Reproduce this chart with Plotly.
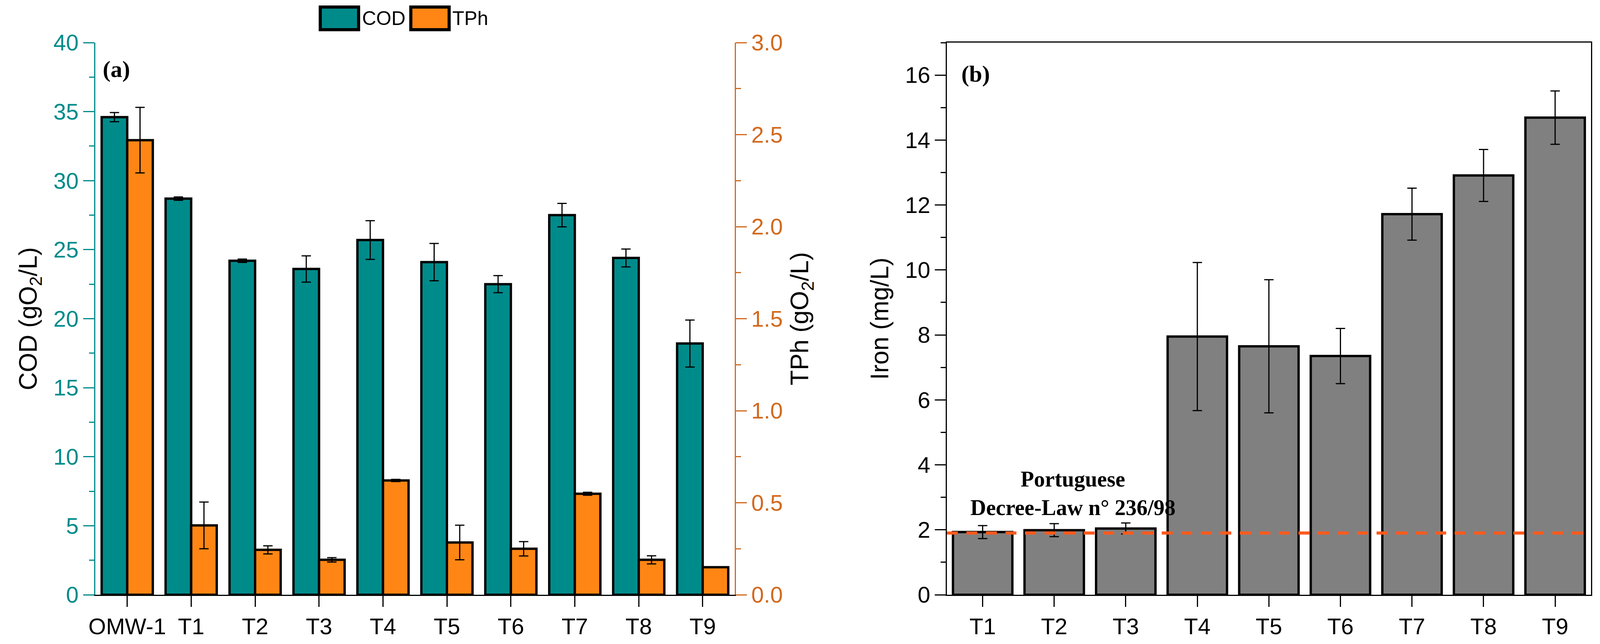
"""
COD / TPh (panel a) and iron (panel b) bar charts with error bars.
"""

import plotly.graph_objects as go

# --- Data: panel (a) ---
samples_a = ["OMW-1", "T1", "T2", "T3", "T4", "T5", "T6", "T7", "T8", "T9"]
cod = [34.6, 28.7, 24.2, 23.6, 25.7, 24.1, 22.5, 27.5, 24.4, 18.2]       # gO2/L
cod_err = [0.33, 0.12, 0.12, 0.95, 1.4, 1.35, 0.62, 0.85, 0.65, 1.7]
tph = [2.47, 0.377, 0.244, 0.19, 0.621, 0.284, 0.25, 0.549, 0.19, 0.15]  # gO2/L
tph_err = [0.178, 0.127, 0.022, 0.012, 0.006, 0.094, 0.039, 0.008, 0.022, 0.0]

# --- Data: panel (b) ---
samples_b = ["T1", "T2", "T3", "T4", "T5", "T6", "T7", "T8", "T9"]
iron = [1.93, 1.99, 2.04, 7.95, 7.65, 7.35, 11.72, 12.91, 14.69]          # mg/L
iron_err = [0.2, 0.2, 0.17, 2.28, 2.05, 0.85, 0.8, 0.8, 0.82]
IRON_LIMIT = 1.9   # Portuguese Decree-Law 236/98

# --- Style ---
TEAL = "#008B8B"
ORANGE = "#FF8614"
BROWN = "#D2691E"
GREY = "#808080"
LIMIT_RED = "#FF5A1E"
NARROW = "Liberation Sans Narrow, Arial Narrow, Liberation Sans, sans-serif"
SANS = "Liberation Sans, Arial, sans-serif"
SERIF = "Liberation Serif, Times New Roman, serif"

# browser viewport is 4096 wide; body keeps its default 8px margin
W, H = 4088, 1640
DOM_A = [0.0577, 0.4581]
DOM_B = [0.5910, 0.9943]
DOM_Y = [0.0768, 0.9384]

err_style = dict(type="data", color="black", thickness=3, width=12)

fig = go.Figure()

# Panel (a): COD on left axis, TPh on right axis, side by side
fig.add_trace(go.Bar(
    x=samples_a, y=cod, name="COD", xaxis="x", yaxis="y",
    width=0.4, offset=-0.4,
    marker=dict(color=TEAL, line=dict(color="black", width=6)),
    error_y=dict(array=cod_err, **err_style),
))
fig.add_trace(go.Bar(
    x=samples_a, y=tph, name="TPh", xaxis="x", yaxis="y2",
    width=0.4, offset=0.0,
    marker=dict(color=ORANGE, line=dict(color="black", width=6)),
    error_y=dict(array=tph_err, **err_style),
))

# Panel (b): iron
fig.add_trace(go.Bar(
    x=samples_b, y=iron, name="Iron", xaxis="x2", yaxis="y3",
    width=0.83,
    marker=dict(color=GREY, line=dict(color="black", width=6)),
    error_y=dict(array=iron_err, **err_style),
))

tick_font = dict(family=NARROW, size=58, color="black")
title_font = dict(family=SANS, size=64, color="black")

fig.update_layout(
    width=W, height=H,
    margin=dict(l=0, r=0, t=0, b=0, autoexpand=False),
    paper_bgcolor="white", plot_bgcolor="white",
    showlegend=False,
    barmode="overlay",
    # panel (a) axes
    xaxis=dict(
        domain=DOM_A, anchor="y", type="category", range=[-0.5, 9.5],
        showline=True, linecolor="black", linewidth=3,
        ticks="outside", ticklen=28, tickwidth=3, tickcolor="black",
        tickfont=tick_font, showgrid=False, zeroline=False, automargin=False,
    ),
    xaxis3=dict(  # top border with inside ticks every half category
        overlaying="x", anchor="y", side="top", type="linear", range=[-0.5, 9.5],
        tickmode="linear", tick0=-0.5, dtick=0.5,
        showline=True, linecolor="black", linewidth=3,
        ticks="inside", ticklen=12, tickwidth=3, tickcolor="black",
        showticklabels=False, showgrid=False, zeroline=False, automargin=False,
    ),
    xaxis4=dict(  # minor ticks on category boundaries
        overlaying="x", anchor="y", side="bottom", type="linear", range=[-0.5, 9.5],
        tickmode="linear", tick0=-0.5, dtick=1,
        showline=False, ticks="outside", ticklen=13, tickwidth=3, tickcolor="black",
        showticklabels=False, showgrid=False, zeroline=False, automargin=False,
    ),
    yaxis=dict(
        domain=DOM_Y, anchor="x", range=[0, 40], dtick=5,
        showline=True, linecolor=TEAL, linewidth=3,
        ticks="outside", ticklen=28, tickwidth=3, tickcolor=TEAL,
        minor=dict(dtick=2.5, ticks="outside", ticklen=13, tickwidth=3, tickcolor=TEAL),
        tickfont=dict(family=NARROW, size=58, color=TEAL),
        showgrid=False, zeroline=False, automargin=False,
        title=dict(text="COD (gO<sub>2</sub>/L)", font=title_font, standoff=22),
    ),
    yaxis2=dict(
        overlaying="y", anchor="x", side="right", range=[0, 3], dtick=0.5,
        tickformat=".1f",
        showline=True, linecolor=BROWN, linewidth=3,
        ticks="outside", ticklen=28, tickwidth=3, tickcolor=BROWN,
        minor=dict(dtick=0.25, ticks="outside", ticklen=13, tickwidth=3, tickcolor=BROWN),
        tickfont=dict(family=NARROW, size=58, color=BROWN),
        showgrid=False, zeroline=False, automargin=False,
        title=dict(text="TPh (gO<sub>2</sub>/L)", font=title_font, standoff=22),
    ),
    # panel (b) axes
    xaxis2=dict(
        domain=DOM_B, anchor="y3", type="category", range=[-0.5, 8.5],
        showline=True, linecolor="black", linewidth=3, mirror=True,
        ticks="outside", ticklen=28, tickwidth=3, tickcolor="black",
        tickfont=tick_font, showgrid=False, zeroline=False, automargin=False,
    ),
    xaxis5=dict(
        overlaying="x2", anchor="y3", side="bottom", type="linear", range=[-0.5, 8.5],
        tickmode="linear", tick0=-0.5, dtick=1,
        showline=False, ticks="outside", ticklen=13, tickwidth=3, tickcolor="black",
        showticklabels=False, showgrid=False, zeroline=False, automargin=False,
    ),
    yaxis3=dict(
        domain=DOM_Y, anchor="x2", range=[0, 17], dtick=2,
        showline=True, linecolor="black", linewidth=3, mirror=True,
        ticks="outside", ticklen=28, tickwidth=3, tickcolor="black",
        minor=dict(dtick=1, ticks="outside", ticklen=13, tickwidth=3, tickcolor="black"),
        tickfont=tick_font, showgrid=False, zeroline=False, automargin=False,
        title=dict(text="Iron (mg/L)", font=title_font, standoff=22),
    ),
)

# legal limit line
fig.add_shape(type="line", xref="x2 domain", yref="y3",
              x0=0, x1=1, y0=IRON_LIMIT, y1=IRON_LIMIT,
              line=dict(color=LIMIT_RED, width=8, dash="28px,22px"))

# legend drawn by hand (big swatches as in the original)
for x0, color, label in [(0.1986, TEAL, "COD"), (0.2553, ORANGE, "TPh")]:
    fig.add_shape(type="rect", xref="paper", yref="paper",
                  x0=x0, x1=x0 + 0.024, y0=0.9585, y1=0.9939,
                  fillcolor=color, line=dict(color="black", width=8))
    fig.add_annotation(x=x0 + 0.0256, y=0.9762, xref="paper", yref="paper",
                       text=label, showarrow=False, xanchor="left", yanchor="middle",
                       font=dict(family=NARROW, size=50, color="black"))

# panel labels and limit note
fig.add_annotation(x=0.0710, y=0.8970, xref="paper", yref="paper", text="<b>(a)</b>",
                   showarrow=False, xanchor="center", yanchor="middle",
                   font=dict(family=SERIF, size=60, color="black"))
fig.add_annotation(x=0.6090, y=0.8896, xref="paper", yref="paper", text="<b>(b)</b>",
                   showarrow=False, xanchor="center", yanchor="middle",
                   font=dict(family=SERIF, size=60, color="black"))
fig.add_annotation(x=0.6698, y=0.2348, xref="paper", yref="paper",
                   text="<b>Portuguese<br>Decree-Law n° 236/98</b>",
                   showarrow=False, align="center", xanchor="center", yanchor="middle",
                   font=dict(family=SERIF, size=56, color="black"))

fig.write_html("out.html")
